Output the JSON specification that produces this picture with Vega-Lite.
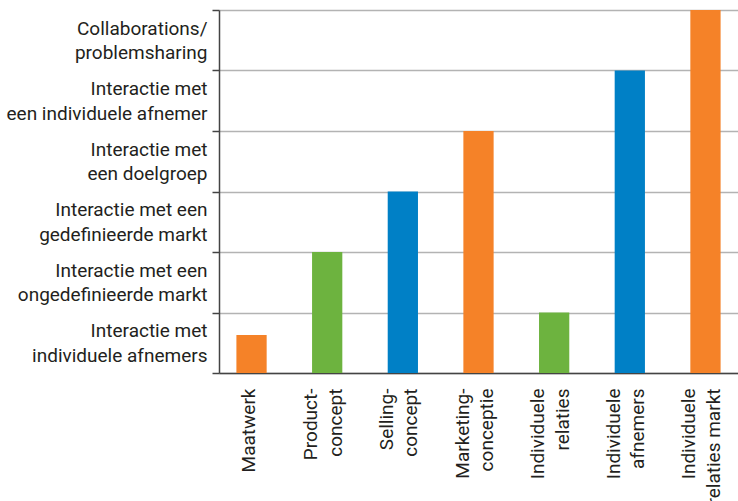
{
  "$schema": "https://vega.github.io/schema/vega-lite/v6.json",
  "autosize": {"type": "none"},
  "padding": {"left": 219, "top": 10, "right": 0, "bottom": 128},
  "width": 519,
  "height": 363,
  "background": "white",
  "config": {"view": {"stroke": null}},
  "data": {
    "values": [
      {"concept": "Maatwerk", "niveau": 0.63, "kleur": "oranje"},
      {"concept": "Product-\nconcept", "niveau": 2, "kleur": "groen"},
      {"concept": "Selling-\nconcept", "niveau": 3, "kleur": "blauw"},
      {"concept": "Marketing-\nconceptie", "niveau": 4, "kleur": "oranje"},
      {"concept": "Individuele\nrelaties", "niveau": 1, "kleur": "groen"},
      {"concept": "Individuele\nafnemers", "niveau": 5, "kleur": "blauw"},
      {"concept": "Individuele\nrelaties markt", "niveau": 6, "kleur": "oranje"}
    ]
  },
  "mark": {"type": "bar"},
  "encoding": {
    "x": {
      "field": "concept",
      "type": "nominal",
      "sort": null,
      "title": null,
      "scale": {"paddingInner": 0.6, "paddingOuter": 0.23},
      "axis": {
        "labelAngle": -90,
        "labelAlign": "right",
        "labelBaseline": "middle",
        "labelExpr": "split(datum.label, '\\n')",
        "labelFont": "Roboto",
        "labelFontSize": 19,
        "labelLineHeight": 24.5,
        "labelColor": "#231f20",
        "labelPadding": 15,
        "labelLimit": 300,
        "labelOffset": {"condition": {"test": "datum.label == 'Maatwerk'", "value": -3}, "value": -16},
        "ticks": false,
        "domainColor": "#444444",
        "domainWidth": 1.5,
        "labelOverlap": false,
        "labelBound": false
      }
    },
    "y": {
      "field": "niveau",
      "type": "quantitative",
      "title": null,
      "scale": {"domain": [0, 6], "nice": false},
      "axis": {
        "values": [0, 1, 2, 3, 4, 5, 6],
        "labelExpr": "datum.value == 0 ? ['Interactie met', 'individuele afnemers'] : datum.value == 1 ? ['Interactie met een', 'ongedefinieerde markt'] : datum.value == 2 ? ['Interactie met een', 'gedefinieerde markt'] : datum.value == 3 ? ['Interactie met', 'een doelgroep'] : datum.value == 4 ? ['Interactie met', 'een individuele afnemer'] : datum.value == 5 ? ['Collaborations/', 'problemsharing'] : ''",
        "labelOffset": -42.5,
        "labelFont": "Roboto",
        "labelFontSize": 19,
        "labelLineHeight": 24.5,
        "labelColor": "#231f20",
        "labelPadding": 5,
        "labelLimit": 300,
        "labelBaseline": "middle",
        "labelOverlap": false,
        "labelBound": false,
        "labelFlush": false,
        "tickSize": 7,
        "tickColor": "#444444",
        "tickWidth": 1.5,
        "domainColor": "#444444",
        "domainWidth": 1.5,
        "grid": true,
        "gridColor": "#b3b3b3",
        "gridWidth": 1.5
      }
    },
    "color": {
      "field": "kleur",
      "type": "nominal",
      "legend": null,
      "scale": {"domain": ["oranje", "groen", "blauw"], "range": ["#f58228", "#6db33f", "#0080c6"]}
    }
  }
}
